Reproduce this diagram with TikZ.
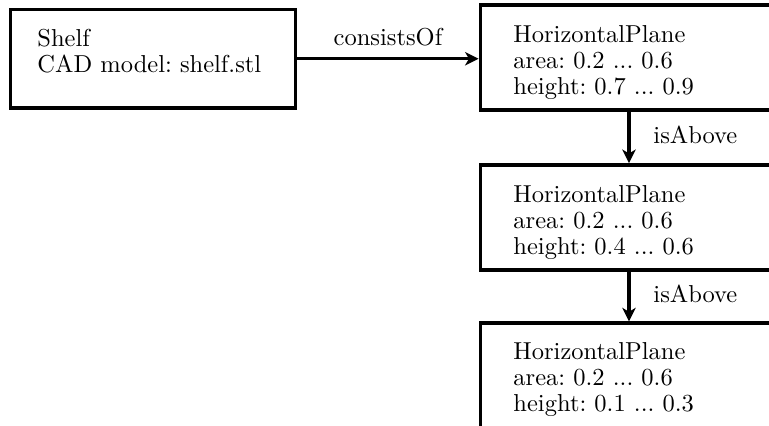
\documentclass[tikz,border=0pt]{standalone}
\usetikzlibrary{arrows.meta}
\begin{document}
\frenchspacing
\begin{tikzpicture}[x=0.4082pt,y=-0.4082pt,
  box/.style={draw, line width=1.6pt, rectangle, inner sep=0pt,
    minimum height=105*0.4082pt, minimum width=400*0.4082pt},
  txt/.style={anchor=north west, inner sep=0pt, align=left,
    font=\fontsize{10}{10.6}\selectfont},
  arr/.style={line width=1.3pt, -{Stealth[length=5.5pt,width=5.5pt,inset=1.6pt]}},
  lbl/.style={font=\fontsize{10}{12}\selectfont}]
\useasboundingbox (0,0) rectangle (769,426);
\clip (0,0) rectangle (769,426);
% boxes
\node[box, minimum width=285*0.4082pt, minimum height=98.5*0.4082pt] (shelf) at (153,58.75) {};
\node[box] (pA) at (680.5,57.5) {};
\node[box] (pB) at (680.5,217.5) {};
\node[box] (pC) at (680.5,375.8) {};
% texts
\node[txt] (tshelf) at (37,29) {Shelf\\CAD model: shelf.stl};
\node[txt] (tA) at (513,24.7) {HorizontalPlane\\area: 0.2 ... 0.6\\height: 0.7 ... 0.9};
\node[txt] (tB) at (513,184.7) {HorizontalPlane\\area: 0.2 ... 0.6\\height: 0.4 ... 0.6};
\node[txt] (tC) at (513,342.3) {HorizontalPlane\\area: 0.2 ... 0.6\\height: 0.1 ... 0.3};
% connectors
\coordinate (colx) at (629,0);
\draw[arr] (shelf.east) -- node[lbl, midway, above=1pt] {consistsOf} (shelf.east -| pA.west);
\draw[arr] (pA.south -| colx) -- node[lbl, midway, right=6pt, yshift=1pt] {isAbove} (pB.north -| colx);
\draw[arr] (pB.south -| colx) -- node[lbl, midway, right=6pt, yshift=1pt] {isAbove} (pC.north -| colx);
\end{tikzpicture}
\end{document}
